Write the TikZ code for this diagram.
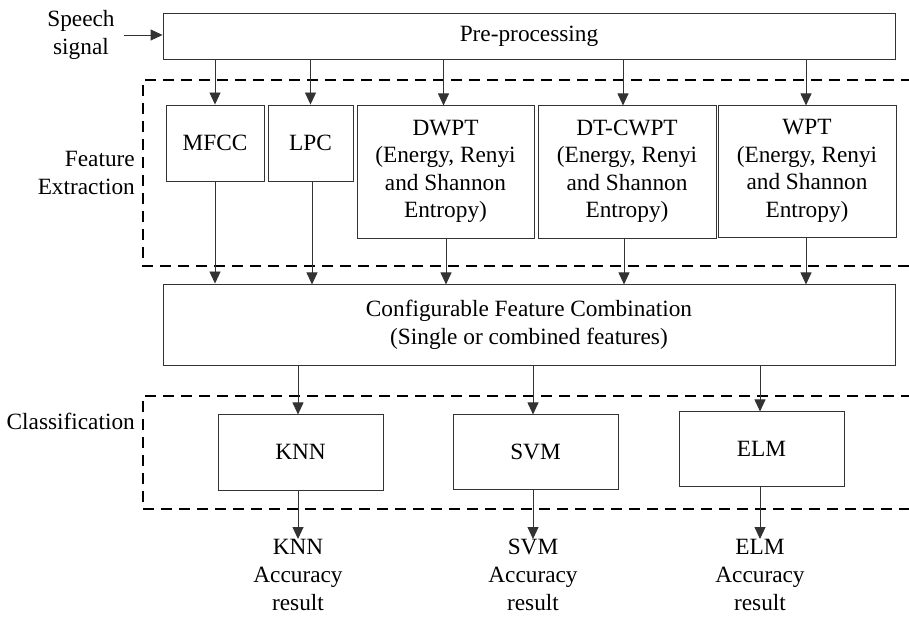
\documentclass[tikz,border=0pt]{standalone}
\usepackage{fontspec}
\setmainfont{Liberation Serif}
\usetikzlibrary{arrows.meta}
\begin{document}
\begin{tikzpicture}[x=1pt,y=-1pt,
  box/.style={draw=black!80,line width=0.9pt,inner sep=0pt,align=center,font=\fontsize{23.3}{27.5}\selectfont},
  lbl/.style={inner sep=0pt,align=center,font=\fontsize{23.3}{28}\selectfont},
  arr/.style={draw=black!80,line width=0.9pt,-{Triangle[length=12pt,width=11pt]}},
  grp/.style={draw=black,line width=1.8pt,dash pattern=on 11pt off 7pt}]
\useasboundingbox (0,0) rectangle (909,617);
% boxes
\node[box,minimum width=732pt,minimum height=46pt] (pre) at (529,36) {Pre-processing};
\node[box,minimum width=98pt,minimum height=76pt] (mfcc) at (215,143) {MFCC};
\node[box,minimum width=85pt,minimum height=76pt] (lpc) at (310.5,143) {LPC};
\node[box,minimum width=177pt,minimum height=133pt] (dwpt) at (445.5,171.5) {DWPT\\(Energy, Renyi\\and Shannon\\Entropy)};
\node[box,minimum width=178pt,minimum height=133pt] (dtc) at (627,171.5) {DT-CWPT\\(Energy, Renyi\\and Shannon\\Entropy)};
\node[box,minimum width=178pt,minimum height=132pt] (wpt) at (807,171) {WPT\\(Energy, Renyi\\and Shannon\\Entropy)};
\node[box,minimum width=732pt,minimum height=81pt,font=\fontsize{23.3}{28}\selectfont] (cfc) at (529,324.5) {Configurable Feature Combination\\(Single or combined features)};
\node[box,minimum width=165pt,minimum height=76pt] (knn) at (300.5,452) {KNN};
\node[box,minimum width=165pt,minimum height=75pt] (svm) at (535.5,451.5) {SVM};
\node[box,minimum width=165pt,minimum height=75pt] (elm) at (761.5,448.5) {ELM};
% labels
\node[lbl,anchor=center] (speech) at (81,35) {Speech\\signal};
\node[lbl,anchor=east,align=right] (fe) at (135,173) {Feature\\Extraction};
\node[lbl,anchor=east] (cl) at (135,421) {Classification};
\node[lbl,anchor=north] (knno) at (298,539) {KNN\\Accuracy\\result};
\node[lbl,anchor=north] (svmo) at (533,539) {SVM\\Accuracy\\result};
\node[lbl,anchor=north] (elmo) at (760,539) {ELM\\Accuracy\\result};
% dashed groups
\draw[grp] (912,80) -- (143,80) -- (143,266) -- (912,266);
\draw[grp] (912,396) -- (143,396) -- (143,509) -- (912,509);
% arrows
\coordinate (sp) at (124,35);
\draw[arr] (sp) -- (pre.west|-sp);
\draw[arr] (pre.south-|mfcc) -- (mfcc.north);
\draw[arr] (pre.south-|lpc) -- (lpc.north);
\draw[arr] (pre.south-|dwpt) ++(-2,0) -- ++(0,46);
\draw[arr] (pre.south-|dtc) ++(-4,0) -- ++(0,46);
\draw[arr] (pre.south-|wpt) ++(-1,0) -- ++(0,46);
\draw[arr] (mfcc.south) -- (mfcc|-cfc.north);
\draw[arr] (lpc.south) ++(1.5,0) -- ++(0,103);
\draw[arr] (dwpt.south) ++(0.5,0) -- ++(0,46);
\draw[arr] (dtc.south) ++(-3,0) -- ++(0,46);
\draw[arr] (wpt.south) ++(-1,0) -- ++(0,47);
\draw[arr] (cfc.south-|knn) ++(-2.5,0) -- ++(0,49);
\draw[arr] (cfc.south-|svm) ++(-2.5,0) -- ++(0,49);
\draw[arr] (cfc.south-|elm) ++(-1.5,0) -- ++(0,46);
\draw[arr] (knn.south) ++(-2.5,0) -- (knno.north);
\draw[arr] (svm.south) ++(-2.5,0) -- (svmo.north);
\draw[arr] (elm.south) ++(-1.5,0) -- (elmo.north);
\end{tikzpicture}
\end{document}
